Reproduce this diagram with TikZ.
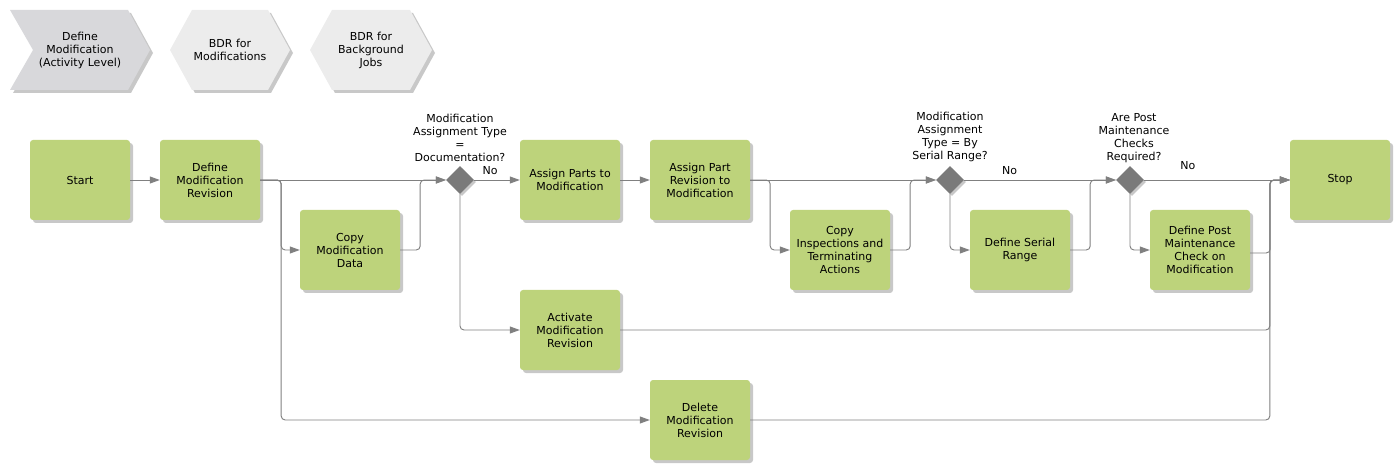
\documentclass[tikz,border=0pt]{standalone}
\usepackage{fontspec}
\setmainfont{DejaVu Sans}
\usetikzlibrary{arrows.meta,shadows,shapes.geometric}
\definecolor{boxgreen}{HTML}{BDD37B}
\definecolor{diagray}{HTML}{7A7A7A}
\definecolor{linegray}{HTML}{808080}
\definecolor{chevgray}{HTML}{D8D8DB}
\definecolor{hexgray}{HTML}{ECECEC}
\definecolor{shadowgray}{HTML}{C8C8C8}
\begin{document}
\begin{tikzpicture}[x=1pt,y=-1pt,
  font=\fontsize{11}{13}\selectfont,
  proc/.style={fill=boxgreen, rounded corners=3pt, minimum width=100pt, minimum height=80pt, align=center, inner sep=0pt,
    drop shadow={shadow xshift=3pt, shadow yshift=-3pt, fill=shadowgray, opacity=1}},
  dec/.style={diamond, fill=diagray, minimum width=28pt, minimum height=28pt, inner sep=0pt,
    drop shadow={shadow xshift=2pt, shadow yshift=-2pt, fill=shadowgray, opacity=1}},
  flow/.style={draw=linegray, line width=0.95pt, rounded corners=4pt, -{Triangle[length=10pt,width=7pt]}},
  lbl/.style={align=center, inner sep=0pt},
  sh/.style={fill=shadowgray}]
\useasboundingbox (0,0) rectangle (1400,470);

% top value-chain shapes
\fill[sh] (13,13) -- (131,13) -- (153,53) -- (131,93) -- (13,93) -- (36,53) -- cycle;
\fill[chevgray] (10,10) -- (128,10) -- (150,50) -- (128,90) -- (10,90) -- (33,50) -- cycle;
\node[lbl] (vc1) at (80,50) {Define\\Modification\\(Activity Level)};

\fill[sh] (173,53) -- (195,13) -- (271,13) -- (293,53) -- (271,93) -- (195,93) -- cycle;
\fill[hexgray] (170,50) -- (192,10) -- (268,10) -- (290,50) -- (268,90) -- (192,90) -- cycle;
\node[lbl] (vc2) at (230,50) {BDR for\\Modifications};

\fill[sh] (313,53) -- (335,13) -- (413,13) -- (435,53) -- (413,93) -- (335,93) -- cycle;
\fill[hexgray] (310,50) -- (332,10) -- (410,10) -- (432,50) -- (410,90) -- (332,90) -- cycle;
\node[lbl] (vc3) at (371,50) {BDR for\\Background\\Jobs};

% process boxes
\node[proc] (start) at (80,180) {Start};
\node[proc] (dmr) at (210,180) {Define\\Modification\\Revision};
\node[proc] (copy) at (350,250) {Copy\\Modification\\Data};
\node[dec] (d1) at (460,180) {};
\node[proc] (ap) at (570,180) {Assign Parts to\\Modification};
\node[proc] (apr) at (700,180) {Assign Part\\Revision to\\Modification};
\node[proc] (ci) at (840,250) {Copy\\Inspections and\\Terminating\\Actions};
\node[dec] (d2) at (950,180) {};
\node[proc] (sr) at (1020,250) {Define Serial\\Range};
\node[dec] (d3) at (1130,180) {};
\node[proc] (dpmc) at (1200,250) {Define Post\\Maintenance\\Check on\\Modification};
\node[proc] (stop) at (1340,180) {Stop};
\node[proc] (act) at (570,330) {Activate\\Modification\\Revision};
\node[proc] (del) at (700,420) {Delete\\Modification\\Revision};

% decision labels
\node[lbl] (q1) at (460,138) {Modification\\Assignment Type\\=\\Documentation?};
\node[lbl] (q2) at (950,137) {Modification\\Assignment\\Type = By\\Serial Range?};
\node[lbl] (q3) at (1134,138) {Are Post\\Maintenance\\Checks\\Required?};

\coordinate (jn) at ([xshift=-20pt]stop.west);

% connectors
\draw[flow] (start.east) -- (dmr.west);
\draw[flow] (dmr.east) -- (d1.west);
\draw[flow] (dmr.east) -- ([xshift=21pt]dmr.east) |- (copy.west);
\draw[flow] (dmr.east) -- ([xshift=21pt]dmr.east) |- (del.west);
\draw[flow] (copy.east) -- ([xshift=20pt]copy.east) |- (d1.west);
\draw[flow] (d1.east) -- node[lbl, pos=0.35, above=5pt] (no1) {No} (ap.west);
\draw[flow] (d1.south) |- (act.west);
\draw[flow] (ap.east) -- (apr.west);
\draw[flow] (apr.east) -- (d2.west);
\draw[flow] (apr.east) -- ([xshift=20pt]apr.east) |- (ci.west);
\draw[flow] (ci.east) -- ([xshift=20pt]ci.east) |- (d2.west);
\draw[flow] (d2.east) -- node[lbl, pos=0.3, above=5pt] (no2) {No} (d3.west);
\draw[flow] (d2.south) |- (sr.west);
\draw[flow] (sr.east) -- ([xshift=20pt]sr.east) |- (d3.west);
\draw[flow] (d3.east) -- node[lbl, pos=0.3, above=10pt] (no3) {No} (stop.west);
\draw[flow] (d3.south) |- (dpmc.west);
\draw[flow] ([yshift=-3pt]dpmc.east) -- ([xshift=20pt,yshift=-3pt]dpmc.east) |- (stop.west);
\draw[flow] (act.east) -| (jn) -- (stop.west);
\draw[flow] (del.east) -| (jn) -- (stop.west);
\end{tikzpicture}
\end{document}
